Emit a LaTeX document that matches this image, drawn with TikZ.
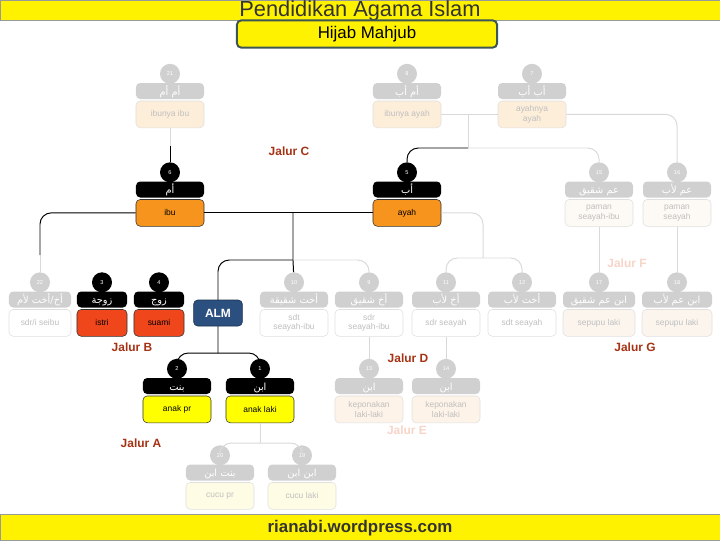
\documentclass[tikz,border=0pt]{standalone}
\usepackage{fontspec}
\setmainfont{Liberation Sans}
\newfontfamily\arabicfont[Script=Arabic]{DejaVu Sans}
\TeXXeTstate=1
\usetikzlibrary{positioning}
\definecolor{banner}{RGB}{255,242,0}
\definecolor{hijabln}{RGB}{60,85,85}
\definecolor{jalurred}{RGB}{165,50,20}
\definecolor{jalurfade}{RGB}{246,212,200}
\definecolor{ortu}{RGB}{247,148,30}
\definecolor{pasangan}{RGB}{240,70,28}
\definecolor{anakyl}{RGB}{255,255,0}
\definecolor{almblue}{RGB}{43,80,128}
\definecolor{fadegy}{RGB}{208,208,208}
\definecolor{peach}{RGB}{253,238,218}
\definecolor{pamanbg}{RGB}{253,249,244}
\definecolor{sepupubg}{RGB}{252,245,238}
\definecolor{keponbg}{RGB}{253,243,232}
\definecolor{cucubg}{RGB}{254,252,228}

\begin{document}
\begin{tikzpicture}[x=0.025cm, y=-0.025cm,
    hdr/.style={rectangle, rounded corners=3pt, fill=#1, text=white,
                minimum width=1.7cm, minimum height=0.4cm, inner sep=0pt,
                text height=6.5pt, text depth=0.5pt,
                font=\arabicfont\fontsize{7}{8}\selectfont},
    nomor/.style={circle, fill=#1, text=white, minimum size=0.5cm,
                  inner sep=0pt, font=\fontsize{4}{4}\selectfont},
    kotak/.style={rectangle, rounded corners=3pt, minimum width=1.7cm,
                  minimum height=0.67cm, inner sep=1pt, align=center,
                  font=\fontsize{6}{7}\selectfont},
    aktif/.style={kotak, fill=#1, draw=black!80, text=black},
    pudar/.style={kotak, fill=#1, draw=black!12, text=black!25},
    onln/.style={draw=black, line width=0.7pt},
    offln/.style={draw=black!15, line width=0.7pt},
    jalur/.style={font=\bfseries\fontsize{8.5}{9}\selectfont, text=#1}]

\useasboundingbox (0,0) rectangle (720,540);

% ════════════════════════════════════════
%  Banners
% ════════════════════════════════════════

\filldraw[fill=banner, draw=black!40] (0,0) rectangle (720,20);
\node[font=\fontsize{15.5}{16}\selectfont, text=black!80] (judul) at (360,11) {Pendidikan Agama Islam};
\node[draw=hijabln, line width=1.4pt, fill=banner, rounded corners=3pt,
      minimum width=6.5cm, minimum height=0.68cm, font=\fontsize{12}{13}\selectfont]
    (hijab) at (367,34) {Hijab Mahjub};

\filldraw[fill=banner, draw=black!40] (0,514) rectangle (720,540);
\node[font=\bfseries\fontsize{12}{13}\selectfont, text=black!80] (situs) at (360,528) {rianabi.wordpress.com};

% ════════════════════════════════════════
%  Row 1: grandparents (faded)
% ════════════════════════════════════════

\node[hdr=fadegy] (nenekibu-ar) at (170,91) {\beginR أم أم\endR};
\node[nomor=fadegy, above=-1pt of nenekibu-ar] (nenekibu-no) {21};
\node[pudar=peach, below=1pt of nenekibu-ar] (nenekibu) {ibunya ibu};

\node[hdr=fadegy] (nenekayah-ar) at (407,91) {\beginR أم أب\endR};
\node[nomor=fadegy, above=-1pt of nenekayah-ar] (nenekayah-no) {8};
\node[pudar=peach, below=1pt of nenekayah-ar] (nenekayah) {ibunya ayah};

\node[hdr=fadegy] (kakek-ar) at (532,91) {\beginR أب أب\endR};
\node[nomor=fadegy, above=-1pt of kakek-ar] (kakek-no) {7};
\node[pudar=peach, below=1pt of kakek-ar] (kakek) {ayahnya\\ayah};

% ════════════════════════════════════════
%  Row 2: parents and uncles
% ════════════════════════════════════════

\node[hdr=black] (ibu-ar) at (170,189.5) {\beginR أم\endR};
\node[nomor=black, above=-1pt of ibu-ar] (ibu-no) {6};
\node[aktif=ortu, below=1pt of ibu-ar] (ibu) {ibu};

\node[hdr=black] (ayah-ar) at (407,189.5) {\beginR أب\endR};
\node[nomor=black, above=-1pt of ayah-ar] (ayah-no) {5};
\node[aktif=ortu, below=1pt of ayah-ar] (ayah) {ayah};

\node[hdr=fadegy] (paman1-ar) at (599,189.5) {\beginR عم شقيق\endR};
\node[nomor=fadegy, above=-1pt of paman1-ar] (paman1-no) {15};
\node[pudar=pamanbg, below=1pt of paman1-ar] (paman1) {paman\\seayah-ibu};

\node[hdr=fadegy] (paman2-ar) at (677,189.5) {\beginR عم لأب\endR};
\node[nomor=fadegy, above=-1pt of paman2-ar] (paman2-no) {16};
\node[pudar=pamanbg, below=1pt of paman2-ar] (paman2) {paman\\seayah};

% ════════════════════════════════════════
%  Row 3: spouses, siblings, cousins
% ════════════════════════════════════════

\node[hdr=fadegy, minimum width=1.55cm] (sdribu-ar) at (40,299.5) {\beginR أخ/أخت لأم\endR};
\node[nomor=fadegy, above=-1pt of sdribu-ar] (sdribu-no) {22};
\node[pudar=white, minimum width=1.55cm, below=1pt of sdribu-ar] (sdribu) {sdr/i seibu};

\node[hdr=black, minimum width=1.25cm] (istri-ar) at (102,299.5) {\beginR زوجة\endR};
\node[nomor=black, above=-1pt of istri-ar] (istri-no) {3};
\node[aktif=pasangan, minimum width=1.25cm, below=1pt of istri-ar] (istri) {istri};

\node[hdr=black, minimum width=1.25cm] (suami-ar) at (159,299.5) {\beginR زوج\endR};
\node[nomor=black, above=-1pt of suami-ar] (suami-no) {4};
\node[aktif=pasangan, minimum width=1.25cm, below=1pt of suami-ar] (suami) {suami};

\node[hdr=fadegy] (sdtkandung-ar) at (294,299.5) {\beginR أخت شقيقة\endR};
\node[nomor=fadegy, above=-1pt of sdtkandung-ar] (sdtkandung-no) {10};
\node[pudar=white, below=1pt of sdtkandung-ar] (sdtkandung) {sdt\\seayah-ibu};

\node[hdr=fadegy] (sdrkandung-ar) at (369,299.5) {\beginR أخ شقيق\endR};
\node[nomor=fadegy, above=-1pt of sdrkandung-ar] (sdrkandung-no) {9};
\node[pudar=white, below=1pt of sdrkandung-ar] (sdrkandung) {sdr\\seayah-ibu};

\node[hdr=fadegy] (sdrayah-ar) at (446,299.5) {\beginR أخ لأب\endR};
\node[nomor=fadegy, above=-1pt of sdrayah-ar] (sdrayah-no) {11};
\node[pudar=white, below=1pt of sdrayah-ar] (sdrayah) {sdr seayah};

\node[hdr=fadegy] (sdtayah-ar) at (522,299.5) {\beginR أخت لأب\endR};
\node[nomor=fadegy, above=-1pt of sdtayah-ar] (sdtayah-no) {12};
\node[pudar=white, below=1pt of sdtayah-ar] (sdtayah) {sdt seayah};

\node[hdr=fadegy, minimum width=1.8cm] (sepupu1-ar) at (599,299.5) {\beginR ابن عم شقيق\endR};
\node[nomor=fadegy, above=-1pt of sepupu1-ar] (sepupu1-no) {17};
\node[pudar=sepupubg, minimum width=1.8cm, below=1pt of sepupu1-ar] (sepupu1) {sepupu laki};

\node[hdr=fadegy, minimum width=1.75cm] (sepupu2-ar) at (677,299.5) {\beginR ابن عم لأب\endR};
\node[nomor=fadegy, above=-1pt of sepupu2-ar] (sepupu2-no) {18};
\node[pudar=sepupubg, minimum width=1.75cm, below=1pt of sepupu2-ar] (sepupu2) {sepupu laki};

% ════════════════════════════════════════
%  Row 4: children and nephews
% ════════════════════════════════════════

\node[hdr=black] (anakpr-ar) at (177,386) {\beginR بنت\endR};
\node[nomor=black, above=-1pt of anakpr-ar] (anakpr-no) {2};
\node[aktif=anakyl, below=1pt of anakpr-ar] (anakpr) {anak pr};

\node[hdr=black] (anaklk-ar) at (260,386) {\beginR ابن\endR};
\node[nomor=black, above=-1pt of anaklk-ar] (anaklk-no) {1};
\node[aktif=anakyl, below=1pt of anaklk-ar] (anaklk) {anak laki};

\node[hdr=fadegy] (kepon1-ar) at (369,386) {\beginR ابن\endR};
\node[nomor=fadegy, above=-1pt of kepon1-ar] (kepon1-no) {13};
\node[pudar=keponbg, below=1pt of kepon1-ar] (kepon1) {keponakan\\laki-laki};

\node[hdr=fadegy] (kepon2-ar) at (446,386) {\beginR ابن\endR};
\node[nomor=fadegy, above=-1pt of kepon2-ar] (kepon2-no) {14};
\node[pudar=keponbg, below=1pt of kepon2-ar] (kepon2) {keponakan\\laki-laki};

% ════════════════════════════════════════
%  Row 5: grandchildren (faded)
% ════════════════════════════════════════

\node[hdr=fadegy] (cucupr-ar) at (220,472.5) {\beginR بنت ابن\endR};
\node[nomor=fadegy, above=-1pt of cucupr-ar] (cucupr-no) {20};
\node[pudar=cucubg, below=1pt of cucupr-ar] (cucupr) {cucu pr};

\node[hdr=fadegy] (cuculk-ar) at (302,472.5) {\beginR ابن ابن\endR};
\node[nomor=fadegy, above=-1pt of cuculk-ar] (cuculk-no) {19};
\node[pudar=cucubg, below=1pt of cuculk-ar] (cuculk) {cucu laki};

% ════════════════════════════════════════
%  Jalur labels
% ════════════════════════════════════════

\node[jalur=jalurred] (jalurC) at (289,151) {Jalur C};
\node[jalur=jalurfade] (jalurF) at (627,263) {Jalur F};
\node[jalur=jalurred] (jalurB) at (132,347) {Jalur B};
\node[jalur=jalurred] (jalurD) at (408,358) {Jalur D};
\node[jalur=jalurfade] (jalurE) at (407,430) {Jalur E};
\node[jalur=jalurred] (jalurG) at (635,347) {Jalur G};
\node[jalur=jalurred] (jalurA) at (141,443) {Jalur A};

% ════════════════════════════════════════
%  Connectors
% ════════════════════════════════════════

\coordinate (cNenek) at (170,146);
\coordinate (cKakek) at (468,114);
\coordinate (cAyah) at (468,148);
\coordinate (cOrtu) at (293,212.5);
\coordinate (cSaudara) at (293,260);
\coordinate (cAnak) at (218,353);
\coordinate (cSeibu) at (40,255);
\coordinate (cSeayah) at (483,258);
\coordinate (cCucu) at (260,443);

% grandparents
\draw[offln] (nenekibu) -- (cNenek);
\draw[onln] (cNenek) -- (ibu-no);
\draw[offln] (nenekayah) -- (kakek);
\draw[offln] (cKakek) -- (cAyah);
\draw[onln, rounded corners=8pt] (cAyah) -| (ayah-no);
\draw[offln, rounded corners=8pt] (cAyah) -| (paman1-no);
\draw[offln, rounded corners=8pt] (kakek) -| (paman2-no);

% parents to siblings and children
\draw[onln] (ibu) -- (ayah);
\draw[onln, rounded corners=8pt] (ibu) -| (cSeibu);
\draw[offln] (cSeibu) -- (sdribu-no);
\draw[onln] (cOrtu) -- (cSaudara) -- (sdtkandung-no);
\draw[onln, rounded corners=8pt] (cSaudara) -| (cAnak);
\draw[onln, rounded corners=8pt] (anakpr-no) |- (cAnak) -| (anaklk-no);
\draw[offln, rounded corners=8pt] (cSaudara) -| (sdrkandung-no);
\draw[offln, rounded corners=8pt] (ayah) -| (cSeayah);
\draw[offln, rounded corners=8pt] (sdrayah-no) |- (cSeayah) -| (sdtayah-no);

% faded descendants
\draw[offln] (sdrkandung) -- (kepon1-no);
\draw[offln] (sdrayah) -- (kepon2-no);
\draw[offln] (paman1) -- (sepupu1-no);
\draw[offln] (paman2) -- (sepupu2-no);
\draw[offln] (anaklk) -- (cCucu);
\draw[offln, rounded corners=8pt] (cucupr-no) |- (cCucu) -| (cuculk-no);

% ALM sits over the line
\node[rectangle, rounded corners=3pt, fill=almblue, draw=almblue!60!black,
      text=white, minimum width=1.22cm, minimum height=0.65cm,
      font=\bfseries\fontsize{8.5}{9}\selectfont] (alm) at (218,313) {ALM};

\end{tikzpicture}
\end{document}
